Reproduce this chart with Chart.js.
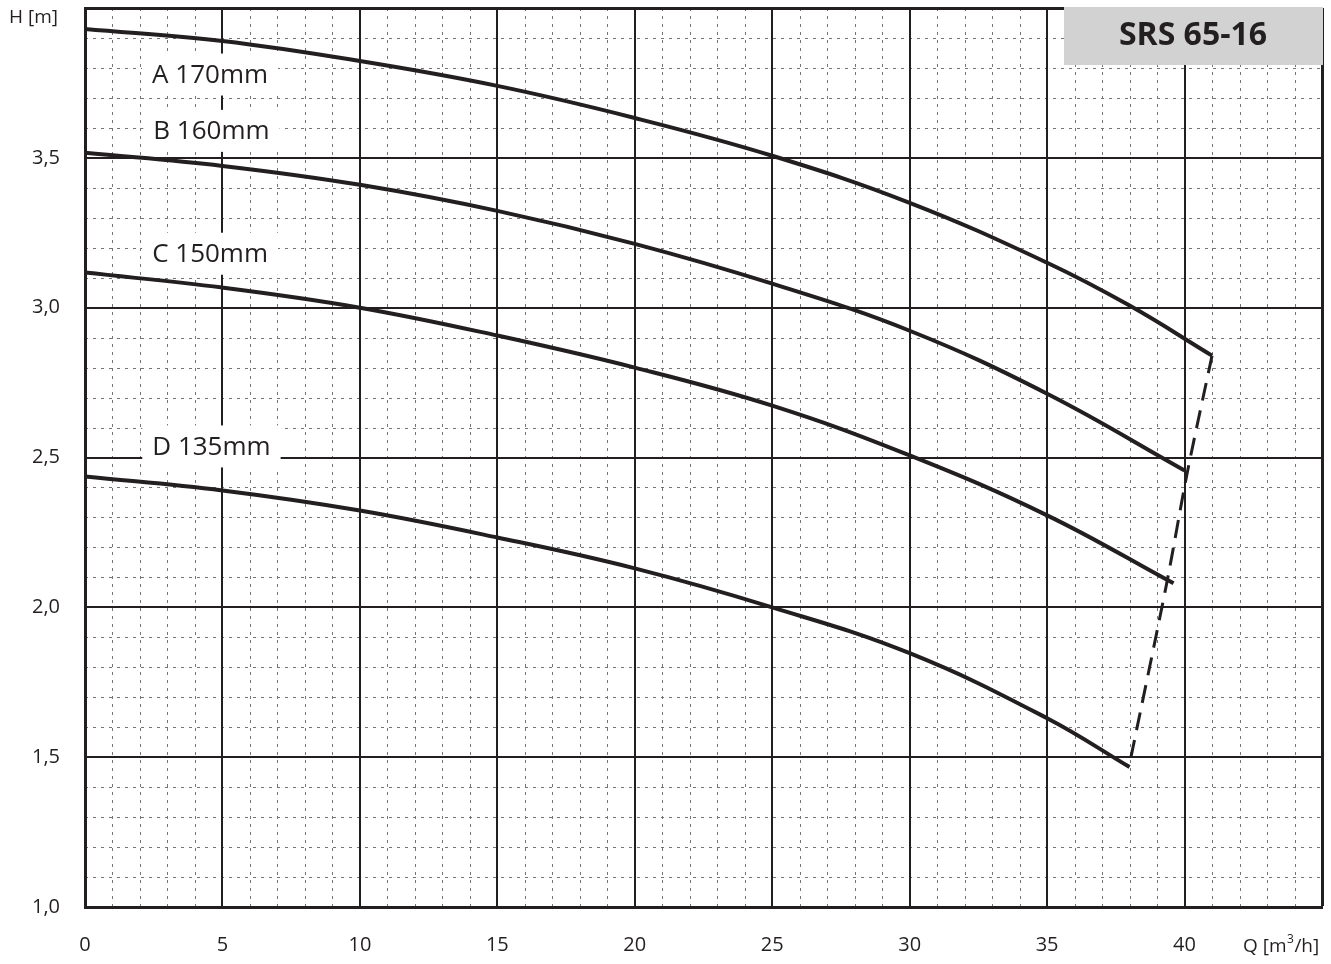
<!DOCTYPE html>
<html>
<head>
<meta charset="utf-8">
<script src="https://cdn.jsdelivr.net/npm/chart.js@4/dist/chart.umd.min.js"></script>
<style>
  html, body { margin: 0; padding: 0; background: #fff; }
  #wrap { width: 1331px; height: 964px; }
</style>
</head>
<body>
<div id="wrap"><canvas id="pump-chart"></canvas></div>
<script>
// impeller curves, Q [m3/h] vs H [m]
const qA = [0, 5, 10, 15, 20, 25, 30, 35, 38, 41];
const hA = [3.93, 3.89, 3.823, 3.74, 3.633, 3.507, 3.35, 3.15, 3.007, 2.84];
const qB = [0, 5, 10, 15, 20, 25, 30, 35, 40];
const hB = [3.517, 3.473, 3.41, 3.323, 3.213, 3.08, 2.923, 2.713, 2.457];
const qC = [0, 5, 10, 15, 20, 25, 30, 35, 39.6];
const hC = [3.117, 3.067, 3.0, 2.907, 2.8, 2.673, 2.507, 2.307, 2.08];
const qD = [0, 5, 10, 15, 20, 25, 30, 35, 38];
const hD = [2.437, 2.39, 2.323, 2.233, 2.13, 2.0, 1.847, 1.63, 1.467];
// max flow limit (dashed)
const qLimit = [41.0, 40.1, 39.35, 38.05];
const hLimit = [2.84, 2.45, 2.08, 1.5];

const curveNames = ['A 170mm', 'B 160mm', 'C 150mm', 'D 135mm'];
const labelQ = [4.55, 4.6, 4.55, 4.6];
const labelH = [3.778, 3.59, 3.18, 2.537];

const xTicks = [0, 5, 10, 15, 20, 25, 30, 35, 40];
const yTicks = ['1,0', '1,5', '2,0', '2,5', '3,0', '3,5'];

const INK = '#231f20';
const FONT = '"Open Sans", "Noto Sans", sans-serif';

const pts = (q, h) => q.map((v, i) => ({x: v, y: h[i]}));

function curve(q, h) {
  return {
    data: pts(q, h),
    borderColor: INK,
    borderWidth: 4,
    pointRadius: 0,
    tension: 0.4,
    fill: false,
  };
}

// minor dashed grid under everything
const minorGrid = {
  id: 'minorGrid',
  beforeDraw(chart) {
    const {ctx, chartArea: a, scales: {x, y}} = chart;
    ctx.save();
    ctx.strokeStyle = '#747474';
    ctx.lineWidth = 1;
    ctx.setLineDash([3, 5]);
    for (let q = 1; q < 45; q++) {
      if (q % 5 === 0) continue;
      const px = Math.round(x.getPixelForValue(q)) + 0.5;
      ctx.beginPath(); ctx.moveTo(px, a.top); ctx.lineTo(px, a.bottom); ctx.stroke();
    }
    for (let k = 11; k < 40; k++) {
      if (k % 5 === 0) continue;
      const py = Math.round(y.getPixelForValue(k / 10)) + 0.5;
      ctx.beginPath(); ctx.moveTo(a.left, py); ctx.lineTo(a.right, py); ctx.stroke();
    }
    ctx.restore();
  }
};

// curve labels, title box, axis names
const overlay = {
  id: 'overlay',
  beforeDatasetsDraw(chart) {
    const {ctx, scales: {x, y}} = chart;
    ctx.save();
    ctx.font = '26px ' + FONT;
    ctx.textAlign = 'center';
    ctx.textBaseline = 'middle';
    curveNames.forEach((name, i) => {
      const cx = x.getPixelForValue(labelQ[i]);
      const cy = y.getPixelForValue(labelH[i]);
      const w = ctx.measureText(name).width + 20;
      ctx.fillStyle = '#fff';
      ctx.fillRect(cx - w / 2, cy - 21, w, 42);
      ctx.fillStyle = INK;
      ctx.fillText(name, cx, cy + 1);
    });
    ctx.restore();
  },
  afterDraw(chart) {
    const {ctx, chartArea: a} = chart;
    ctx.save();
    // title box
    ctx.fillStyle = '#d2d2d2';
    ctx.fillRect(a.right - 258, a.top - 1, 259, 58);
    ctx.fillStyle = INK;
    ctx.font = 'bold 32px ' + FONT;
    ctx.textAlign = 'center';
    ctx.textBaseline = 'middle';
    ctx.fillText('SRS 65-16', a.right - 129, a.top + 28);
    // axis names
    ctx.font = '19px ' + FONT;
    ctx.textAlign = 'left';
    ctx.fillText('H [m]', 9, 18);
    const qx = 1243;
    ctx.fillText('Q [m', qx, 947);
    const w1 = ctx.measureText('Q [m').width;
    ctx.font = '12px ' + FONT;
    ctx.fillText('3', qx + w1 + 0.5, 940);
    const w2 = ctx.measureText('3').width;
    ctx.font = '19px ' + FONT;
    ctx.fillText('/h]', qx + w1 + w2 + 1, 947);
    ctx.restore();
  }
};

new Chart(document.getElementById('pump-chart'), {
  type: 'line',
  data: {
    datasets: [
      curve(qA, hA),
      curve(qB, hB),
      curve(qC, hC),
      curve(qD, hD),
      {
        data: pts(qLimit, hLimit),
        borderColor: INK,
        borderWidth: 3,
        borderDash: [18, 10],
        pointRadius: 0,
        tension: 0.3,
        fill: false,
      },
    ]
  },
  options: {
    responsive: true,
    maintainAspectRatio: false,
    animation: false,
    layout: { padding: { top: 8, right: 9, left: 0, bottom: 0 } },
    plugins: {
      legend: { display: false },
      tooltip: { enabled: false },
    },
    scales: {
      x: {
        type: 'linear',
        min: 0,
        max: 45,
        afterFit(s) {
          s.height = 57;
          s.paddingLeft = 0; s.paddingRight = 0;
        },
        ticks: {
          stepSize: 5,
          padding: 26,
          color: INK,
          font: { family: FONT, size: 20 },
          maxRotation: 0,
          callback: (v) => xTicks.includes(v) ? String(v) : '',
        },
        grid: {
          color: INK,
          lineWidth: (c) => c.tick && c.tick.value === 45 ? 3 : 2,
          drawTicks: false,
        },
        border: { color: INK, width: 3 },
      },
      y: {
        min: 1,
        max: 4,
        afterFit(s) {
          s.width = 85;
          s.paddingTop = 0; s.paddingBottom = 0;
        },
        ticks: {
          stepSize: 0.5,
          padding: 25,
          color: INK,
          font: { family: FONT, size: 20 },
          callback: (v) => {
            const i = Math.round((v - 1) / 0.5);
            return yTicks[i] !== undefined && Math.abs(v - (1 + i * 0.5)) < 1e-6 ? yTicks[i] : '';
          },
        },
        grid: {
          color: INK,
          lineWidth: (c) => c.tick && c.tick.value === 4 ? 3 : 2,
          drawTicks: false,
        },
        border: { color: INK, width: 3 },
      },
    },
  },
  plugins: [minorGrid, overlay],
});
</script>
</body>
</html>
